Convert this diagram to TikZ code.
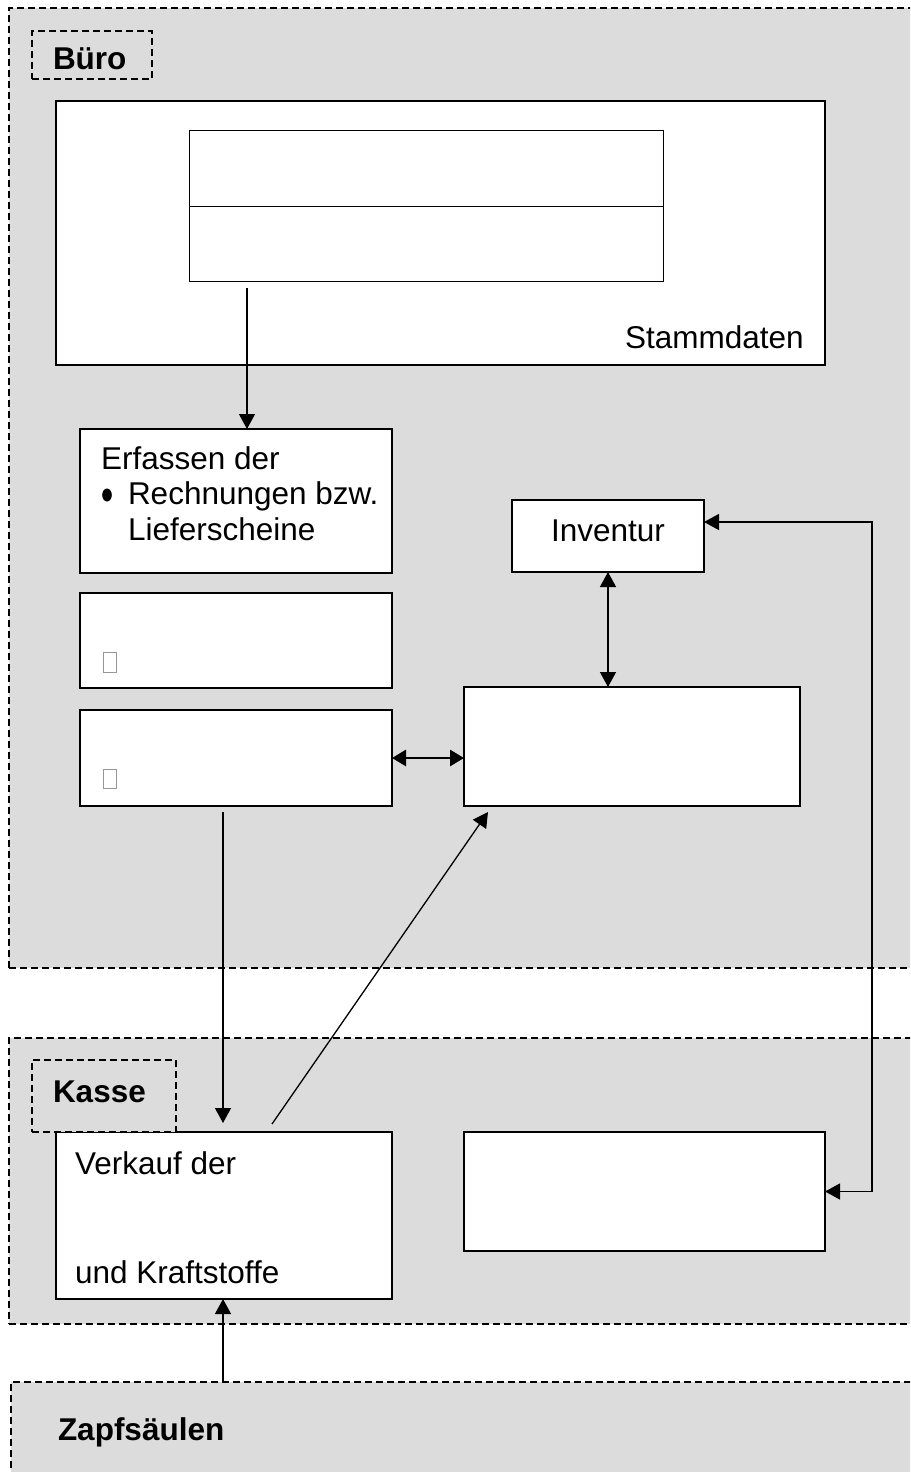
\documentclass[tikz,border=0pt]{standalone}
\usepackage{fontspec}
\setmainfont{Liberation Sans}
\usetikzlibrary{arrows.meta}
\definecolor{regiongray}{RGB}{220,220,220}
\definecolor{tofu}{RGB}{150,150,150}
\tikzset{
  region/.style={draw, dash pattern=on 7pt off 4pt, fill=regiongray, line width=1.2pt, inner sep=0pt, outer sep=0pt, anchor=north west},
  lblbox/.style={draw, dash pattern=on 7pt off 4pt, fill=regiongray, line width=1.2pt, inner sep=0pt, outer sep=0pt, anchor=north west},
  box/.style={draw, fill=white, line width=1.3pt, inner sep=0pt, outer sep=0pt, anchor=north west},
  tbox/.style={draw, fill=white, line width=0.9pt, inner sep=0pt, outer sep=0pt, anchor=north west},
  txt/.style={anchor=base west, inner sep=0pt, outer sep=0pt, font=\fontsize{31.5}{38}\selectfont},
  btxt/.style={anchor=base west, inner sep=0pt, outer sep=0pt, font=\fontsize{31.5}{38}\selectfont\bfseries},
  arr/.style={-{Triangle[length=15pt,width=16pt]}, line width=1.3pt},
  dblarr/.style={{Triangle[length=15pt,width=16pt]}-{Triangle[length=15pt,width=16pt]}, line width=1.3pt},
  thickdbl/.style={{Triangle[length=14pt,width=16pt]}-{Triangle[length=14pt,width=16pt]}, line width=2.8pt},
}
\begin{document}
\begin{tikzpicture}[x=1pt,y=-1pt]
\useasboundingbox (0,0) rectangle (910,1472);
\clip (0,0) rectangle (910,1472);
\fill[white] (0,0) rectangle (910,1472);
% regions
\node[region, minimum width=930pt, minimum height=960pt] (buero) at (9,8) {};
\node[region, minimum width=930pt, minimum height=286pt] (kasse) at (9,1038) {};
\node[region, minimum width=930pt, minimum height=140pt] (zapf) at (11,1382) {};
% Buero label
\node[lblbox, minimum width=120pt, minimum height=48pt] (buerolbl) at (32,31) {};
\node[btxt] (buerotxt) at (53,70) {Büro};
% Stammdaten
\node[box, minimum width=769pt, minimum height=264pt] (stamm) at (56,101) {};
\node[tbox, minimum width=474pt, minimum height=151pt] (table) at (189,130) {};
\coordinate (y206) at (0,206);
\draw[line width=0.9pt] (table.west |- y206) -- (table.east |- y206);
\node[txt] (stammtxt) at (625,348) {Stammdaten};
% left boxes
\node[box, minimum width=312pt, minimum height=144pt] (erf) at (80,429) {};
\node[txt] (erf1) at (101,469) {Erfassen der};
\fill (107,495) ellipse [x radius=4.8pt, y radius=6.5pt];
\node[txt] (erf2) at (128,504) {Rechnungen bzw.};
\node[txt] (erf3) at (128,540) {Lieferscheine};
\node[box, minimum width=312pt, minimum height=95pt] (box2) at (80,593) {};
\draw[tofu, line width=0.8pt] (103,652) rectangle (116,672);
\node[box, minimum width=312pt, minimum height=96pt] (box3) at (80,710) {};
\draw[tofu, line width=0.8pt] (103,769) rectangle (116,788);
% right boxes
\node[box, minimum width=192pt, minimum height=72pt] (inv) at (512,500) {};
\node[txt] (invtxt) at (551,541) {Inventur};
\node[box, minimum width=336pt, minimum height=119pt] (big) at (464,687) {};
% Kasse
\node[box, minimum width=336pt, minimum height=167pt] (verk) at (56,1132) {};
\node[txt] (verk1) at (75,1174) {Verkauf der};
\node[txt] (verk2) at (75,1283) {und Kraftstoffe};
\node[box, minimum width=361pt, minimum height=119pt] (rb) at (464,1132) {};
\node[lblbox, minimum width=144pt, minimum height=72pt] (kasselbl) at (32,1060) {};
\node[btxt] (kassetxt) at (53,1102) {Kasse};
% Zapfsaeulen
\node[btxt] (zapftxt) at (58,1440) {Zapfsäulen};
% helper coordinates
\coordinate (x247) at (247,0);
\coordinate (x223) at (223,0);
\coordinate (xr) at (872,0);
\coordinate (ie) at ([yshift=14pt]inv.east);
\coordinate (dstart) at (272,1124);
\coordinate (dend) at (488,812);
% connectors
\draw[arr, shorten <=7pt] (table.south -| x247) -- (erf.north -| x247);
\draw[dblarr] (inv.south) -- (inv.south |- big.north);
\draw[thickdbl] (box3.east) -- (box3.east -| big.west);
\draw[dblarr] (ie) -- (ie -| xr) -- (rb.east -| xr) -- (rb.east);
\draw[arr, shorten <=6pt, shorten >=9pt] (box3.south -| x223) -- (verk.north -| x223);
\draw[arr] (dstart) -- (dend);
\draw[arr] (zapf.north -| x223) -- (verk.south -| x223);
\end{tikzpicture}
\end{document}
